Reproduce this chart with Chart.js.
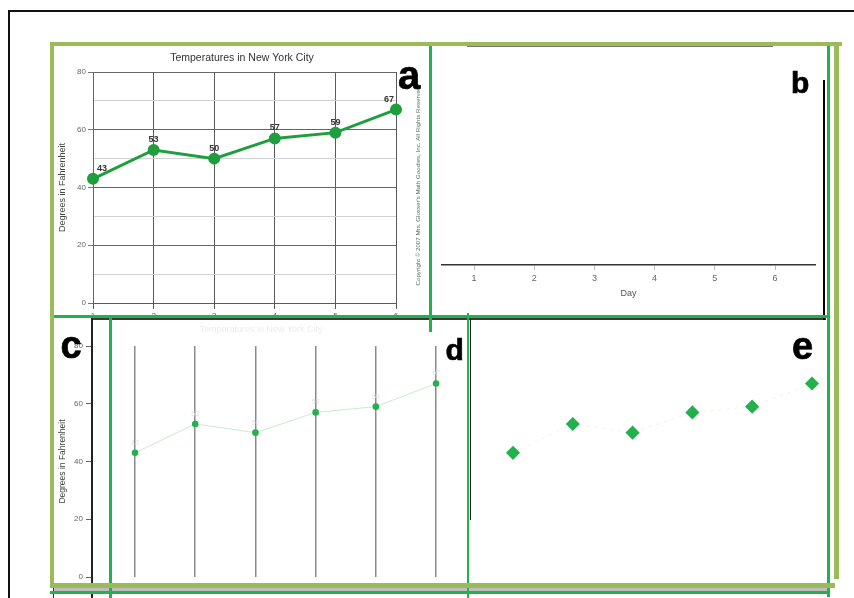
<!DOCTYPE html>
<html><head><meta charset="utf-8">
<script src="https://cdn.jsdelivr.net/npm/chart.js@4.4.1/dist/chart.umd.min.js"></script>
<style>
html,body{margin:0;padding:0;background:#fff;}
#stage{position:relative;width:854px;height:598px;overflow:hidden;background:#fff;}
canvas{position:absolute;}
.ln{position:absolute;z-index:5;}
.lbl{position:absolute;z-index:6;font-family:"Liberation Sans",Arial,sans-serif;font-weight:bold;line-height:1;color:#000;white-space:nowrap;-webkit-text-stroke:0.7px #000;}
</style></head><body>
<div id="stage">
  <canvas id="ca" style="left:54px;top:46px" width="376" height="269"></canvas>
  <canvas id="cb" style="left:431px;top:46px" width="393" height="269"></canvas>
  <canvas id="cc" style="left:54px;top:321px" width="414" height="266"></canvas>
  <canvas id="ce" style="left:472px;top:321px" width="356" height="266"></canvas>
</div>
<script>
// ---- data ----
const days = [1, 2, 3, 4, 5, 6];
const temps = [43, 53, 50, 57, 59, 67];
const yTickLabels = [0, 20, 40, 60, 80];
const chartTitle = 'Temperatures in New York City';
const yTitle = 'Degrees in Fahrenheit';
const xTitle = 'Day';
const copyrightText = "Copyright \u00A9 2007 Mrs. Glosser's Math Goodies, Inc. All Rights Reserved";
const panelLetters = ['a', 'b', 'c', 'd', 'e'];

const FF = '"Liberation Sans", Arial, sans-serif';
Chart.defaults.font.family = FF;
const pts = days.map((d, i) => ({x: d, y: temps[i]}));
const setDayTicks = s => { s.ticks = days.map(v => ({value: v})); };

const valueLabels = {
  id: 'valueLabels',
  afterDatasetsDraw(chart, args, opts) {
    if (!opts || !opts.show) return;
    const meta = chart.getDatasetMeta(0), ctx = chart.ctx, area = chart.chartArea;
    ctx.save();
    ctx.font = opts.font; ctx.fillStyle = opts.color;
    ctx.textAlign = 'center'; ctx.textBaseline = 'middle';
    meta.data.forEach((el, i) => {
      const x = Math.min(Math.max(el.x, area.left + opts.padL), area.right - opts.padR);
      ctx.fillText(String(chart.data.datasets[0].data[i].y), x, el.y - opts.dy);
    });
    ctx.restore();
  }
};
const sideText = {
  id: 'sideText',
  afterDraw(chart, args, opts) {
    if (!opts || !opts.text) return;
    const ctx = chart.ctx;
    ctx.save();
    ctx.translate(opts.x, opts.y); ctx.rotate(-Math.PI / 2);
    ctx.font = opts.font; ctx.fillStyle = opts.color;
    ctx.textAlign = 'center'; ctx.textBaseline = 'middle';
    ctx.fillText(opts.text, 0, 0);
    ctx.restore();
  }
};
Chart.register(valueLabels, sideText);

const base = {responsive: false, animation: false, events: []};

// ---- panel a ----
new Chart(document.getElementById('ca'), {
  type: 'line',
  data: {datasets: [{data: pts, borderColor: '#1f9e3d', backgroundColor: '#1f9e3d', pointBorderColor: '#1f9e3d',
    borderWidth: 3, pointRadius: 4.5, pointHoverRadius: 4.5, tension: 0, clip: false}]},
  options: Object.assign({}, base, {
    layout: {autoPadding: false, padding: {left: 0, right: 0, top: 0, bottom: 0}},
    plugins: {
      legend: {display: false}, tooltip: {enabled: false},
      title: {display: true, text: chartTitle, color: '#333', font: {size: 10.5, weight: 'normal'}, padding: {top: 5.7, bottom: 7.7}},
      valueLabels: {show: true, font: 'bold 9px ' + FF, color: '#333', dy: 10.5, padL: 9, padR: 7},
      sideText: {text: copyrightText, x: 364, y: 140, font: '6.2px ' + FF, color: '#666'}
    },
    scales: {
      x: {type: 'linear', min: 1, max: 6, afterBuildTicks: setDayTicks, afterFit: s => { s.height = 12; },
        ticks: {color: '#666', font: {size: 8}, padding: 2, maxRotation: 0, autoSkip: false},
        grid: {color: '#5a5a5a', lineWidth: 1, tickLength: 6}, border: {color: '#5a5a5a'}},
      y: {min: 0, max: 80, afterFit: s => { s.width = 39; },
        ticks: {stepSize: 10, color: '#666', font: {size: 8}, padding: 2,
          callback: v => yTickLabels.includes(v) ? v : ''},
        grid: {color: c => (c.tick && c.tick.value % 20 === 0) ? '#666' : '#d2d2d2',
          tickColor: c => (c.tick && c.tick.value % 20 === 0) ? '#777' : 'rgba(0,0,0,0)', tickLength: 5},
        border: {color: '#666'},
        title: {display: true, text: yTitle, color: '#444', font: {size: 9}, padding: {top: 3.6, bottom: 4}}},
      yr: {position: 'right', min: 0, max: 80, afterFit: s => { s.width = 34; },
        ticks: {display: false}, grid: {display: false}, border: {display: false}}
    }
  })
});

// ---- panel b ----
new Chart(document.getElementById('cb'), {
  type: 'line',
  data: {datasets: [{data: []}]},
  options: Object.assign({}, base, {
    layout: {autoPadding: false, padding: {left: 11, right: 9, top: 0, bottom: 0}},
    plugins: {legend: {display: false}, tooltip: {enabled: false}},
    scales: {
      x: {type: 'linear', min: 0.468, max: 6.664, afterBuildTicks: setDayTicks, afterFit: s => { s.height = 50; },
        ticks: {color: '#666', font: {size: 9}, padding: 3, maxRotation: 0, autoSkip: false},
        grid: {drawOnChartArea: false, tickLength: 5, tickColor: '#bbb'},
        border: {color: '#333', width: 1.5},
        title: {display: true, text: xTitle, color: '#555', font: {size: 9}, padding: {top: 2, bottom: 15.6}}},
      y: {display: false, min: 0, max: 80}
    }
  })
});

// ---- panel c ----
new Chart(document.getElementById('cc'), {
  type: 'line',
  data: {datasets: [{data: pts, borderColor: 'rgba(34,177,76,0.25)', borderWidth: 1, backgroundColor: '#22b14c',
    pointBorderColor: '#22b14c', pointBorderWidth: 0, pointRadius: 3.3, pointHoverRadius: 3.3, tension: 0, clip: false}]},
  options: Object.assign({}, base, {
    layout: {autoPadding: false, padding: {left: 0, right: 0, top: 0, bottom: 0}},
    plugins: {
      legend: {display: false}, tooltip: {enabled: false},
      title: {display: true, text: chartTitle, color: '#ececec', font: {size: 9, weight: 'normal'}, padding: {top: 3.6, bottom: 10.6}},
      valueLabels: {show: true, font: '7px ' + FF, color: '#e2e2e2', dy: 10, padL: 0, padR: 0}
    },
    scales: {
      x: {type: 'linear', min: 0.2857, max: 6.53, afterBuildTicks: setDayTicks, afterFit: s => { s.height = 10; },
        ticks: {display: false}, grid: {color: '#8a8a8a', lineWidth: 1.5, drawTicks: false}, border: {display: false}},
      y: {min: 0, max: 80, afterFit: s => { s.width = 38; },
        ticks: {stepSize: 20, color: '#666', font: {size: 8}, padding: 3},
        grid: {drawOnChartArea: false, tickLength: 6, tickColor: '#666'}, border: {display: false},
        title: {display: true, text: yTitle, color: '#444', font: {size: 8.5}}}
    }
  })
});

// ---- panel e ----
new Chart(document.getElementById('ce'), {
  type: 'line',
  data: {datasets: [{data: pts, borderColor: 'rgba(200,220,150,0.35)', borderWidth: 1, borderDash: [3, 5],
    pointStyle: 'rectRot', backgroundColor: '#22b14c', pointBorderColor: '#22b14c', pointBorderWidth: 1.5,
    pointRadius: 6, pointHoverRadius: 6, tension: 0, clip: false}]},
  options: Object.assign({}, base, {
    layout: {autoPadding: false, padding: {left: 0, right: 0, top: 25, bottom: 10}},
    plugins: {legend: {display: false}, tooltip: {enabled: false}},
    scales: {
      x: {display: false, type: 'linear', min: 0.314, max: 6.268},
      y: {display: false, min: 0, max: 80}
    }
  })
});

// ---- frame decorations ----
const stage = document.getElementById('stage');
function line(l, t, w, h, c) {
  const d = document.createElement('div');
  d.className = 'ln';
  d.style.cssText = `left:${l}px;top:${t}px;width:${w}px;height:${h}px;background:${c};`;
  stage.appendChild(d);
}
const OLIVE = '#9bbb59', GREEN = '#22b14c';
// outer border
line(8, 10, 846, 1.5, '#111');
line(8, 10, 1.5, 588, '#111');
// inner dark lines
line(467, 46, 306, 1, '#777');
line(92, 318, 734, 1.6, '#3a3a3a');
line(91, 318, 1.6, 280, '#222');
line(469.5, 318, 1.6, 202, '#222');
line(823, 80, 2.2, 240, '#000');
line(53, 588, 777, 2.5, '#bdbdbd');
line(53, 588, 1, 10, '#333');
// bright green
line(429, 42, 2.5, 290, GREEN);
line(50, 315, 780, 2.5, GREEN);
line(827, 42, 2.5, 555, GREEN);
line(109, 315, 2.5, 283, GREEN);
line(466.5, 313, 2.5, 285, GREEN);
line(50, 591, 780, 2.5, GREEN);
// olive frame
line(50, 42, 4, 546, OLIVE);
line(50, 42, 792, 4, OLIVE);
line(834, 42, 5, 537, OLIVE);
line(50, 583, 785, 5, OLIVE);

// panel letters
const letterPos = [
  {l: 398, t: 55, s: 40},
  {l: 791, t: 67.6, s: 30},
  {l: 60.5, t: 325.8, s: 38},
  {l: 445.5, t: 334.6, s: 30},
  {l: 792, t: 326.8, s: 38}
];
panelLetters.forEach((ch, i) => {
  const d = document.createElement('div');
  d.className = 'lbl';
  const p = letterPos[i];
  d.style.cssText = `left:${p.l}px;top:${p.t}px;font-size:${p.s}px;`;
  d.textContent = ch;
  stage.appendChild(d);
});
</script>
</body></html>
